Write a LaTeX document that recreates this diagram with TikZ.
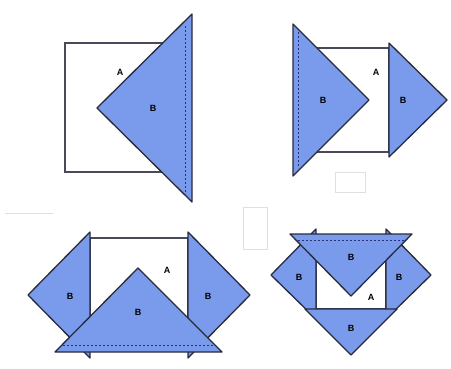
\documentclass[tikz,border=0pt]{standalone}
\usepackage{fontspec}
\setmainfont{Liberation Sans}
\definecolor{tblue}{RGB}{122,154,236}
\definecolor{tline}{RGB}{40,42,60}
\definecolor{tdash}{RGB}{40,50,120}
\begin{document}
\begin{tikzpicture}[x=1pt,y=-1pt,
  tri/.style={fill=tblue,draw=tline,line width=1.3pt,line join=round},
  sq/.style={fill=white,draw=tline!85,line width=1.3pt},
  fold/.style={draw=tdash,line width=0.9pt,dash pattern=on 2pt off 2pt},
  lbl/.style={font=\fontsize{9}{9}\selectfont\bfseries,text=black,inner sep=0pt},
  ghost/.style={draw=gray!25,line width=0.8pt}]
\useasboundingbox[fill=white] (0,0) rectangle (451,368);
% artifacts
\draw[ghost] (5,213) -- (53,213);
\draw[ghost] (335,172) rectangle (365,192);
\draw[ghost] (243,207) rectangle (267,249);
% Panel 1
\draw[sq] (65,43) rectangle (190,172);
\draw[tri] (192,14) -- (192,202) -- (97,108) -- cycle;
\draw[fold] (185,26) -- (185,196);
\node[lbl] (p1a) at (120,72) {A};
\node[lbl] (p1b) at (153,108) {B};
% Panel 2
\draw[sq] (300,48) rectangle (389,152);
\draw[tri] (293,24) -- (293,176) -- (369,100) -- cycle;
\draw[fold] (298,32) -- (298,168);
\draw[tri] (389,43) -- (389,157) -- (447,100) -- cycle;
\node[lbl] (p2a) at (376,72) {A};
\node[lbl] (p2b1) at (323,100) {B};
\node[lbl] (p2b2) at (403,100) {B};
% Panel 3
\draw[sq] (90,238) rectangle (188,336);
\draw[tri] (90,232) -- (90,358) -- (28,295) -- cycle;
\draw[tri] (188,232) -- (188,358) -- (250,295) -- cycle;
\draw[tri] (55,352) -- (222,352) -- (138,268) -- cycle;
\draw[fold] (63,345) -- (214,345);
\node[lbl] (p3a) at (167,270) {A};
\node[lbl] (p3b1) at (70,296) {B};
\node[lbl] (p3b2) at (138,312) {B};
\node[lbl] (p3b3) at (208,296) {B};
% Panel 4
\draw[sq] (316,239) rectangle (386,309);
\draw[tri] (316,229) -- (316,319) -- (271,275) -- cycle;
\draw[tri] (386,229) -- (386,319) -- (431,275) -- cycle;
\draw[tri] (305,309) -- (397,309) -- (351,355) -- cycle;
\draw[tri] (290,234) -- (412,234) -- (351,296) -- cycle;
\draw[fold] (298,240) -- (404,240);
\node[lbl] (p4a) at (371,297) {A};
\node[lbl] (p4b1) at (351,257) {B};
\node[lbl] (p4b2) at (299,277) {B};
\node[lbl] (p4b3) at (399,277) {B};
\node[lbl] (p4b4) at (351,328) {B};
\end{tikzpicture}
\end{document}
